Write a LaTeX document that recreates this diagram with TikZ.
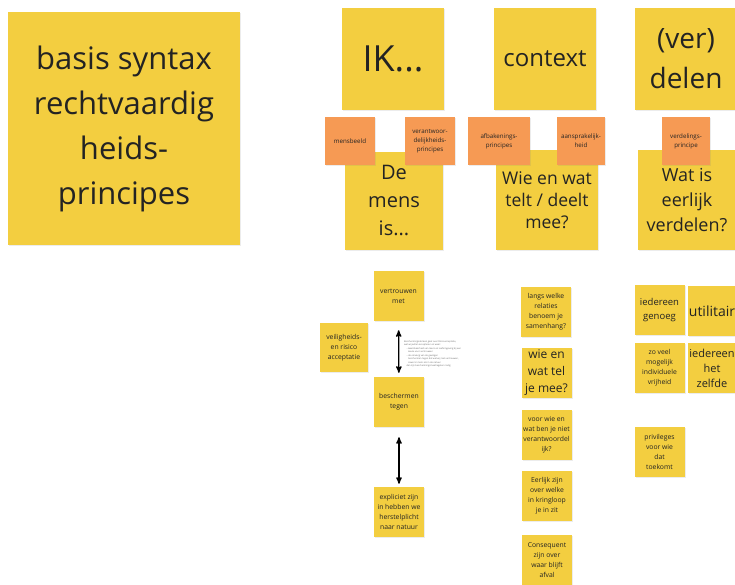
\documentclass[tikz,border=0pt]{standalone}
\usepackage{fontspec}
\setmainfont{Open Sans}
\usetikzlibrary{arrows,shapes,shadows}
\definecolor{sticky}{RGB}{243,206,64}
\definecolor{stickyorange}{RGB}{246,154,84}
\definecolor{inkgray}{RGB}{35,35,35}

\begin{document}
\begin{tikzpicture}[x=1pt,y=-1pt,>=stealth',text=inkgray]
  \tikzstyle{note}=[rectangle,fill=sticky,minimum width=50,minimum height=50,inner sep=1,align=center,
      font=\fontsize{6.8}{10}\selectfont,drop shadow={opacity=0.15,shadow xshift=1pt,shadow yshift=-1pt}]
  \tikzstyle{bignote}=[note,minimum width=102,minimum height=102]
  \tikzstyle{tag}=[note,fill=stickyorange,minimum width=50,minimum height=48,font=\fontsize{6.2}{9}\selectfont]
  \tikzstyle{link}=[<->,line width=1.3pt]

  \useasboundingbox (0,0) rectangle (735,585);

    \node [bignote,minimum width=232,minimum height=233,font=\fontsize{31}{45}\selectfont] (title) at (124,128.5)
        {basis syntax\\rechtvaardig\\heids-\\principes};

    % kolomkoppen
    \node [bignote,font=\fontsize{36}{40}\selectfont] (ik)      at (393,59)  {IK...};
    \node [bignote,font=\fontsize{24}{30}\selectfont] (context) at (545,59)  {context};
    \node [bignote,font=\fontsize{28}{40}\selectfont] (delen)   at (686,59)  {(ver)\\delen};

    \node [bignote,minimum width=98,minimum height=98,font=\fontsize{20}{28}\selectfont] (mens) at (394,201)
        {De\\mens\\is...};
    \node [bignote,minimum height=100,font=\fontsize{17.5}{22}\selectfont] (telt) at (547,200)
        {Wie en wat\\telt / deelt\\mee?};
    \node [bignote,minimum width=98,minimum height=100,font=\fontsize{18}{25}\selectfont] (eerlijk) at (687,200)
        {Wat is\\eerlijk\\verdelen?};

    \node [tag] (mensbeeld)  at (350,141) {mensbeeld};
    \node [tag] (verantw)    at (430,141) {verantwoor-\\delijkheids-\\principes};
    \node [tag,minimum width=62] (afbak) at (499,141) {afbakenings-\\principes};
    \node [tag,minimum width=48] (aanspr) at (581,141) {aansprakelijk-\\heid};
    \node [tag,minimum width=48] (verdeling) at (686,141) {verdelings-\\principe};

    % IK
    \node [note] (vertrouwen) at (398.5,296)   {vertrouwen\\met};
    \node [note,minimum width=48,minimum height=49] (veiligheid) at (344,347.5) {veiligheids-\\en risico\\acceptatie};
    \node [note] (beschermen) at (399,402)     {beschermen\\tegen};
    \node [note] (expliciet)  at (399,512)     {expliciet zijn\\in hebben we\\herstelplicht\\naar natuur};
    \node [align=left,text=black!60,font=\fontsize{2.3}{3.5}\selectfont,inner sep=0,anchor=west] (uitleg) at (404,354)
        {Beschermingsdenken gaat over Risicoacceptatie,\\wat wij willen accepteren en waar:\\
         \quad -- kwetsbaarheid van mens en leefomgeving bij een\\ \quad\phantom{--} keuze voor vertrouwen\\
         \quad -- de omvang van de gevolgen\\ \quad\phantom{--} beschermen tegen dat wat wij niet vertrouwen,\\
         \quad\phantom{--} zowel in mens als in de natuur\\ \quad dan zijn beschermingsmaatregelen nodig};
    \draw [link,shorten <=9pt,shorten >=4pt] (vertrouwen) -- (beschermen);
    \draw [link,shorten <=10pt,shorten >=3pt] (beschermen) -- (expliciet);

    % context
    \node [note] (relaties)   at (546,312)   {langs welke\\relaties\\benoem je\\samenhang?};
    \node [note,font=\fontsize{12}{17}\selectfont] (meetellen) at (546.5,373) {wie en\\wat tel\\je mee?};
    \node [note] (nietverantw) at (546.5,435) {voor wie en\\wat ben je niet\\verantwoordel\\ijk?};
    \node [note] (kringloop)  at (547,496)   {Eerlijk zijn\\over welke\\in kringloop\\je in zit};
    \node [note] (afval)      at (547,560)   {Consequent\\zijn over\\waar blijft\\afval};

    % (ver)delen
    \node [note,font=\fontsize{9.5}{14}\selectfont] (genoeg) at (659.5,310) {iedereen\\genoeg};
    \node [note,minimum width=48,font=\fontsize{14}{18}\selectfont] (utilitair) at (712,311) {utilitair};
    \node [note] (vrijheid) at (659.5,368) {zo veel\\mogelijk\\individuele\\vrijheid};
    \node [note,minimum width=48,font=\fontsize{11}{15}\selectfont] (zelfde) at (712,368) {iedereen\\het\\zelfde};
    \node [note] (privileges) at (659.5,452) {privileges\\voor wie\\dat\\toekomt};
\end{tikzpicture}
\end{document}
